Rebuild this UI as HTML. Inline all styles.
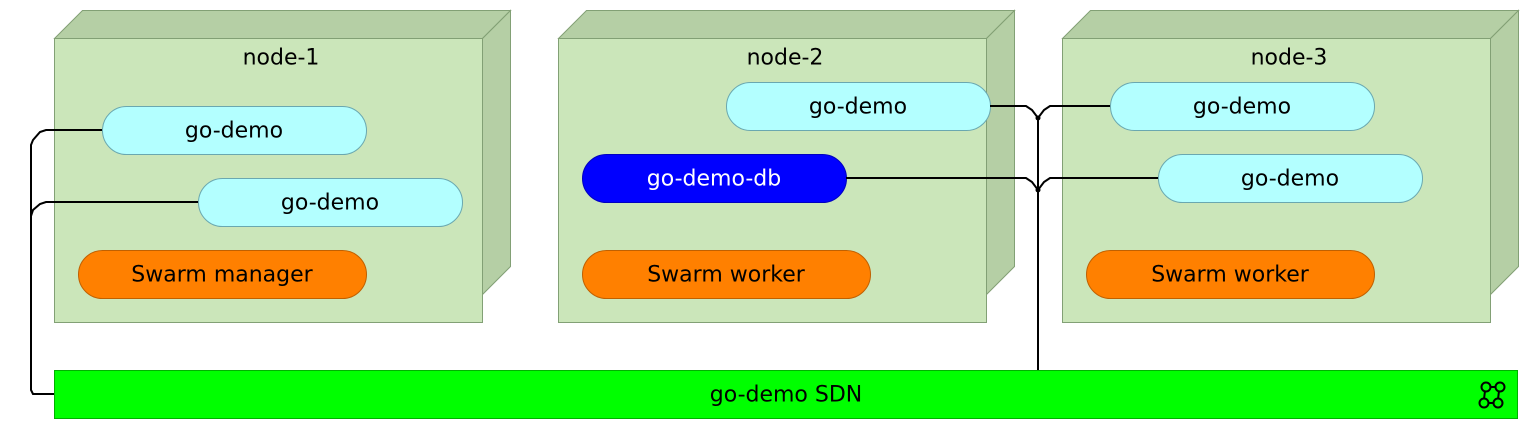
<!DOCTYPE html>
<html><head><meta charset="utf-8"><style>
html,body{margin:0;padding:0;background:#fff;}
svg{display:block;}
text{font-family:"DejaVu Sans","Liberation Sans",sans-serif;font-size:22px;text-anchor:middle;dominant-baseline:central;}
</style></head><body>
<svg width="1530" height="430" viewBox="0 0 1530 430" xmlns="http://www.w3.org/2000/svg">
<defs>
<g id="box">
  <polygon points="0,28 28,0 456,0 428,28" fill="#b5cfa5" stroke="#82a075" stroke-width="1"/>
  <polygon points="428,28 456,0 456,256 428,284" fill="#b5cfa5" stroke="#82a075" stroke-width="1"/>
  <rect x="0" y="28" width="428" height="284" fill="#cbe6ba" stroke="#82a075" stroke-width="1"/>
</g>
</defs>
<use href="#box" x="54.5" y="10.5"/>
<use href="#box" x="558.5" y="10.5"/>
<use href="#box" x="1062.5" y="10.5"/>
<text x="281" y="58">node-1</text>
<text x="785" y="58">node-2</text>
<text x="1289" y="58">node-3</text>

<g stroke="#6aa8b0" stroke-width="1" fill="#b3ffff">
<rect x="102.5" y="106.5" width="264" height="48" rx="24"/>
<rect x="198.5" y="178.5" width="264" height="48" rx="24"/>
<rect x="726.5" y="82.5" width="264" height="48" rx="24"/>
<rect x="1110.5" y="82.5" width="264" height="48" rx="24"/>
<rect x="1158.5" y="154.5" width="264" height="48" rx="24"/>
</g>
<rect x="582.5" y="154.5" width="264" height="48" rx="24" fill="#0000ff" stroke="#0000c0"/>
<g stroke="#c06000" stroke-width="1" fill="#ff8000">
<rect x="78.5" y="250.5" width="288" height="48" rx="24"/>
<rect x="582.5" y="250.5" width="288" height="48" rx="24"/>
<rect x="1086.5" y="250.5" width="288" height="48" rx="24"/>
</g>
<text x="234" y="131">go-demo</text>
<text x="330" y="203">go-demo</text>
<text x="858" y="107">go-demo</text>
<text x="1242" y="107">go-demo</text>
<text x="1290" y="179">go-demo</text>
<text x="714" y="179" fill="#fff">go-demo-db</text>
<text x="222" y="275">Swarm manager</text>
<text x="726" y="275">Swarm worker</text>
<text x="1230" y="275">Swarm worker</text>

<rect x="54.5" y="370.5" width="1463" height="48" fill="#00ff00" stroke="#00b000"/>
<text x="786" y="395">go-demo SDN</text>
<g fill="none" stroke="#000" stroke-width="2">
<circle cx="1486" cy="387" r="4.5"/><circle cx="1500" cy="387" r="4.5"/>
<circle cx="1484" cy="403" r="4.5"/><circle cx="1498" cy="403" r="4.5"/>
<line x1="1490" y1="387" x2="1496" y2="387"/><line x1="1488" y1="403" x2="1494" y2="403"/>
<line x1="1485" y1="391" x2="1484" y2="399"/><line x1="1499" y1="391" x2="1498" y2="399"/>
</g>

<g fill="none" stroke="#000" stroke-width="2">
<path d="M102,130 H46 L40,132 L33,140 L31,145 V390 L33,394 H54"/>
<path d="M198,202 H46 L40,204 L33,210 L31,216"/>
<path d="M990,106 H1026 L1032,110 L1038,118 L1044,110 L1050,106 H1110"/>
<path d="M846,178 H1026 L1032,182 L1038,190 L1044,182 L1050,178 H1158"/>
<path d="M1038,118 V370"/>
</g>
<circle cx="1038" cy="118" r="2.5"/>
<circle cx="1038" cy="190" r="2.5"/>
</svg>
</body></html>
